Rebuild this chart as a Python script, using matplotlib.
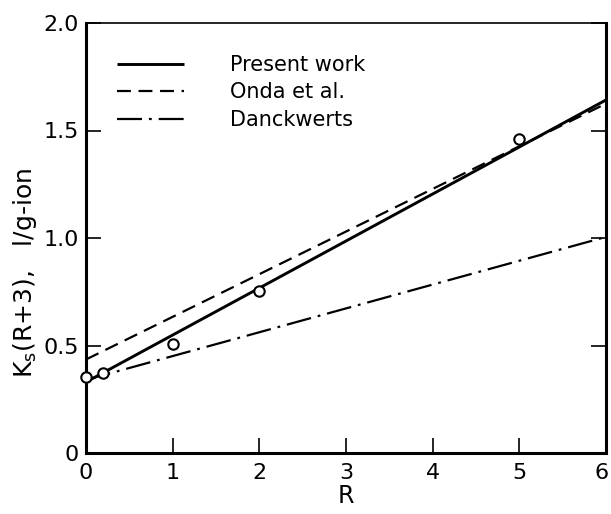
import matplotlib
matplotlib.use("Agg")
import matplotlib.pyplot as plt
import matplotlib.transforms as mtransforms
import numpy as np

plt.rcParams['font.family'] = ['DejaVu Sans']
plt.rcParams['lines.scale_dashes'] = False
plt.rcParams['mathtext.fontset'] = 'dejavusans'

# Data
R_pts = [0.0, 0.2, 1.0, 2.0, 5.0]
K_pts = [0.353, 0.373, 0.507, 0.755, 1.46]

R_line = [0.0, 6.0]
present_work = [0.33, 1.642]
onda = [0.435, 1.625]
danckwerts = [0.34, 1.005]

xticks = [0, 1, 2, 3, 4, 5, 6]
yticks = [0, 0.5, 1.0, 1.5, 2.0]
yticklabels = ['0', '0.5', '1.0', '1.5', '2.0']

fig = plt.figure(figsize=(6.11, 5.14), dpi=100)
ax = fig.add_axes([86/611, 1-453/514, (606-86)/611, (453-23)/514])

ax.plot(R_line, present_work, color='black', lw=2.1, solid_capstyle='butt', label='Present work')
ax.plot(R_line, onda, color='black', lw=1.6, dashes=(10, 5.5), label='Onda et al.')
ax.plot(R_line, danckwerts, color='black', lw=1.6, dashes=(18, 5, 2, 5), label='Danckwerts')
ax.plot(R_pts, K_pts, 'o', ms=7.5, mfc='white', mec='black', mew=1.5, zorder=5, clip_on=False)

ax.set_xlim(0, 6)
ax.set_ylim(0, 2.0)
ax.set_xticks(xticks)
ax.set_yticks(yticks)
ax.set_yticklabels(yticklabels)

for s in ['left', 'bottom', 'right']:
    ax.spines[s].set_linewidth(2.2)
ax.spines['top'].set_linewidth(1.2)

ax.tick_params(axis='x', direction='in', length=11, width=1.2, labelsize=16, pad=7, top=False)
ax.tick_params(axis='y', direction='in', length=11, width=1.2, labelsize=16, pad=5, right=True)

# nudge the last x tick label so it stays inside the figure
lbl6 = ax.get_xticklabels()[-1]
lbl6.set_transform(lbl6.get_transform() + mtransforms.ScaledTranslation(-4/100, 0, fig.dpi_scale_trans))

ax.set_xlabel('R', fontsize=17, labelpad=1)
ax.set_ylabel(r'K$_\mathregular{s}$(R+3),   l/g-ion', fontsize=18)
ax.yaxis.set_label_coords((39-86)/520, 0.42)

leg = ax.legend(loc='upper left', bbox_to_anchor=((117-86)/520, (453-55)/430),
                frameon=False, fontsize=15, handlelength=3.2, handletextpad=2.2,
                borderpad=0, borderaxespad=0, labelspacing=0.36)

fig.savefig('out.png', dpi=100)
